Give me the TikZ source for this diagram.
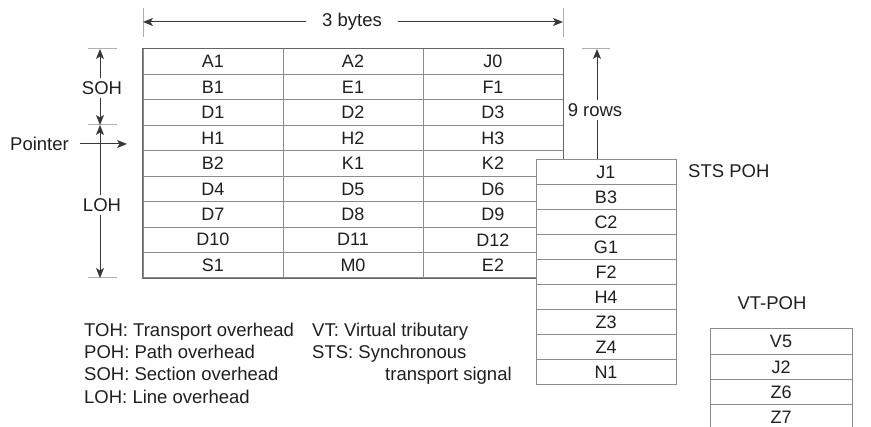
\documentclass[tikz,border=0pt]{standalone}
\usepackage{fontspec}
\setmainfont{Liberation Sans}
\usetikzlibrary{arrows.meta}
\definecolor{linegray}{gray}{0.55}
\definecolor{edgegray}{gray}{0.40}
\definecolor{arrowgray}{gray}{0.22}
\definecolor{txt}{gray}{0.12}
\tikzset{
  lbl/.style={font=\fontsize{18.5}{22}\selectfont, text=txt, inner sep=0pt},
  cell/.style={draw=linegray, line width=1pt, minimum width=140pt, minimum height=25.44pt,
    inner sep=0pt, font=\fontsize{18}{20}\selectfont, text=txt},
  pcell/.style={cell, fill=white, minimum height=25pt},
  vcell/.style={cell, fill=white, minimum width=142pt, minimum height=25.3pt},
  dim/.style={draw=arrowgray, line width=1pt, -{Stealth[length=10pt,width=8pt,inset=2.5pt]}},
  plain/.style={draw=arrowgray, line width=1pt},
  tickln/.style={draw=linegray!70, line width=1pt},
}
\begin{document}
\begin{tikzpicture}[x=1pt,y=-1pt]
\useasboundingbox (0,0) rectangle (871,427);
% main grid
\foreach \r/\a/\b/\c in {0/A1/A2/J0,1/B1/E1/F1,2/D1/D2/D3,3/H1/H2/H3,4/B2/K1/K2,5/D4/D5/D6,6/D7/D8/D9,7/D10/D11/D12,8/S1/M0/E2}{
  \node[cell] (m-\r-1) at (213,{61.72+25.44*\r}) {\a};
  \node[cell] (m-\r-2) at (353,{61.72+25.44*\r}) {\b};
  \node[cell] (m-\r-3) at (493,{61.72+25.44*\r}) {\c};
}
\draw[draw=edgegray, line width=1.2pt] (m-0-1.north west) rectangle (m-8-3.south east);
% 3 bytes
\node[lbl] (bytes) at (352,22) {3 bytes};
\coordinate (tl) at (143,22);
\coordinate (tr) at (563,22);
\draw[tickln] (143,8) -- (143,37);
\draw[tickln] (563,8) -- (563,37);
\draw[dim, shorten <=16pt] (bytes.west) -- (tl);
\draw[dim, shorten <=16pt] (bytes.east) -- (tr);
% SOH / LOH
\draw[tickln] (88,49) -- (117,49);
\draw[tickln] (88,125) -- (117,125);
\draw[tickln] (88,278) -- (117,278);
\node[lbl] (soh) at (102,88) {SOH};
\node[lbl] (loh) at (102,205) {LOH};
\coordinate (s-top) at (100,49);
\coordinate (s-bot) at (100,125);
\coordinate (l-top) at (100,125);
\coordinate (l-bot) at (100,278);
\draw[dim, shorten <=3pt] (soh.north -| s-top) -- (s-top);
\draw[dim, shorten <=3pt] (soh.south -| s-bot) -- (s-bot);
\draw[dim, shorten <=3pt] (loh.north -| l-top) -- (l-top);
\draw[dim, shorten <=3pt] (loh.south -| l-bot) -- (l-bot);
% Pointer
\node[lbl, anchor=east] (ptr) at (69,144) {Pointer};
\coordinate (ptr-end) at (127,144);
\draw[dim, shorten <=11pt] (ptr.east) -- (ptr-end);
% 9 rows
\draw[tickln] (582,49) -- (610,49);
\node[lbl] (rows) at (595,110) {9 rows};
\coordinate (r-top) at (597,49);
\coordinate (r-bot) at (597,160);
\draw[dim, shorten <=3pt] (rows.north -| r-top) -- (r-top);
\draw[plain, shorten <=3pt] (rows.south -| r-bot) -- (r-bot);
% STS POH
\foreach \r/\t in {0/J1,1/B3,2/C2,3/G1,4/F2,5/H4,6/Z3,7/Z4,8/N1}{
  \node[pcell] (p-\r) at (606,{172.5+25*\r}) {\t};
}
\node[lbl, anchor=west] (stspoh) at (688,171) {STS POH};
% VT-POH
\node[lbl] (vtpoh) at (772,303) {VT-POH};
\foreach \r/\t in {0/V5,1/J2,2/Z6,3/Z7}{
  \node[vcell] (v-\r) at (781,{341.65+25.3*\r}) {\t};
}
% legend
\node[lbl, anchor=base west] (lg1) at (84,336.5) {TOH: Transport overhead};
\node[lbl, anchor=base west] (lg2) at (84,358.7) {POH: Path overhead};
\node[lbl, anchor=base west] (lg3) at (84,381) {SOH: Section overhead};
\node[lbl, anchor=base west] (lg4) at (84,403.3) {LOH: Line overhead};
\node[lbl, anchor=base west] (lg5) at (312,336.5) {VT: Virtual tributary};
\node[lbl, anchor=base west] (lg6) at (312,358.7) {STS: Synchronous};
\node[lbl, anchor=base west] (lg7) at (385,381) {transport signal};
\end{tikzpicture}
\end{document}
